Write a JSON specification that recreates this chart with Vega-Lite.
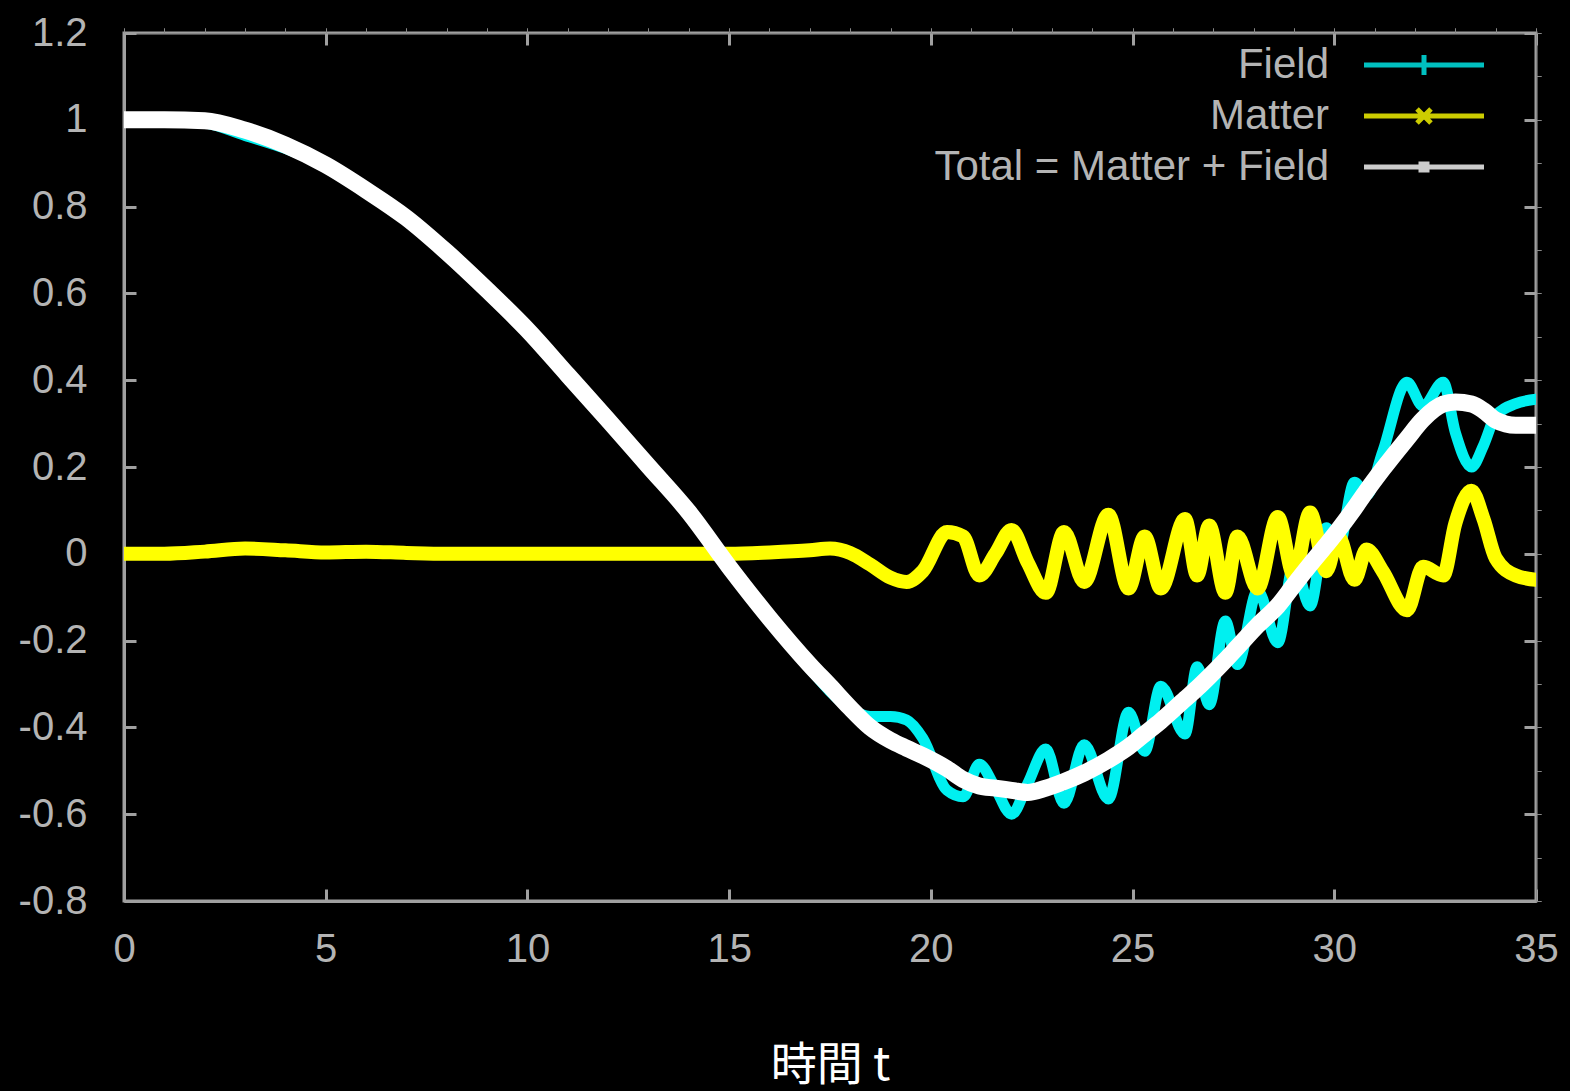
{
  "$schema": "https://vega.github.io/schema/vega-lite/v6.json",
  "width": 1412,
  "height": 868,
  "autosize": "none",
  "padding": {"left": 124, "top": 33, "right": 34, "bottom": 190},
  "background": "black",
  "config": {
    "view": {"stroke": "#a0a0a0", "strokeWidth": 3},
    "font": "Liberation Sans",
    "legend": {
      "orient": "none",
      "legendX": 1279,
      "legendY": 11,
      "padding": 0,
      "title": null,
      "labelAlign": "right",
      "labelOffset": -116,
      "labelLimit": 0,
      "labelFontSize": 42,
      "labelColor": "#b4b4b4",
      "labelFont": "Liberation Sans",
      "symbolType": "M-6,0H6",
      "symbolSize": 400,
      "symbolStrokeWidth": 5,
      "symbolOpacity": 0.8,
      "rowPadding": 9
    }
  },
  "data": {
    "values": [
      {"t": 0, "Field": 1.0, "Matter": 0.0, "Total": 1.0},
      {"t": 1, "Field": 1.0, "Matter": 0.0, "Total": 1.0},
      {"t": 2, "Field": 0.993, "Matter": 0.005, "Total": 0.998},
      {"t": 3, "Field": 0.964, "Matter": 0.012, "Total": 0.976},
      {"t": 4, "Field": 0.934, "Matter": 0.008, "Total": 0.942},
      {"t": 5, "Field": 0.893, "Matter": 0.003, "Total": 0.896},
      {"t": 6, "Field": 0.833, "Matter": 0.005, "Total": 0.838},
      {"t": 7, "Field": 0.772, "Matter": 0.002, "Total": 0.774},
      {"t": 8, "Field": 0.695, "Matter": 0.0, "Total": 0.695},
      {"t": 9, "Field": 0.608, "Matter": 0.0, "Total": 0.608},
      {"t": 10, "Field": 0.516, "Matter": 0.0, "Total": 0.516},
      {"t": 11, "Field": 0.412, "Matter": 0.0, "Total": 0.412},
      {"t": 12, "Field": 0.308, "Matter": 0.0, "Total": 0.308},
      {"t": 13, "Field": 0.202, "Matter": 0.0, "Total": 0.202},
      {"t": 14, "Field": 0.096, "Matter": 0.0, "Total": 0.096},
      {"t": 15, "Field": -0.03, "Matter": 0.0, "Total": -0.03},
      {"t": 16, "Field": -0.151, "Matter": 0.003, "Total": -0.148},
      {"t": 17, "Field": -0.264, "Matter": 0.008, "Total": -0.256},
      {"t": 17.5, "Field": -0.317, "Matter": 0.012, "Total": -0.305},
      {"t": 18, "Field": -0.357, "Matter": 0.002, "Total": -0.355},
      {"t": 18.5, "Field": -0.375, "Matter": -0.025, "Total": -0.4},
      {"t": 19, "Field": -0.375, "Matter": -0.055, "Total": -0.43},
      {"t": 19.4, "Field": -0.383, "Matter": -0.065, "Total": -0.448},
      {"t": 19.8, "Field": -0.425, "Matter": -0.04, "Total": -0.465},
      {"t": 20.4, "Field": -0.545, "Matter": 0.05, "Total": -0.495},
      {"t": 20.8, "Field": -0.56, "Matter": 0.04, "Total": -0.52},
      {"t": 21.2, "Field": -0.485, "Matter": -0.05, "Total": -0.535},
      {"t": 21.6, "Field": -0.54, "Matter": 0.0, "Total": -0.54},
      {"t": 22.0, "Field": -0.6, "Matter": 0.055, "Total": -0.545},
      {"t": 22.4, "Field": -0.53, "Matter": -0.02, "Total": -0.55},
      {"t": 22.85, "Field": -0.45, "Matter": -0.09, "Total": -0.54},
      {"t": 23.3, "Field": -0.575, "Matter": 0.05, "Total": -0.525},
      {"t": 23.8, "Field": -0.44, "Matter": -0.065, "Total": -0.505},
      {"t": 24.4, "Field": -0.565, "Matter": 0.09, "Total": -0.475},
      {"t": 24.9, "Field": -0.365, "Matter": -0.08, "Total": -0.445},
      {"t": 25.3, "Field": -0.455, "Matter": 0.04, "Total": -0.415},
      {"t": 25.7, "Field": -0.305, "Matter": -0.08, "Total": -0.385},
      {"t": 26.3, "Field": -0.415, "Matter": 0.08, "Total": -0.335},
      {"t": 26.6, "Field": -0.26, "Matter": -0.05, "Total": -0.31},
      {"t": 26.9, "Field": -0.348, "Matter": 0.065, "Total": -0.283},
      {"t": 27.3, "Field": -0.155, "Matter": -0.09, "Total": -0.245},
      {"t": 27.6, "Field": -0.255, "Matter": 0.04, "Total": -0.215},
      {"t": 28.1, "Field": -0.085, "Matter": -0.08, "Total": -0.165},
      {"t": 28.6, "Field": -0.205, "Matter": 0.085, "Total": -0.12},
      {"t": 29.0, "Field": -0.022, "Matter": -0.05, "Total": -0.072},
      {"t": 29.4, "Field": -0.12, "Matter": 0.095, "Total": -0.025},
      {"t": 29.8, "Field": 0.06, "Matter": -0.04, "Total": 0.02},
      {"t": 30.1, "Field": 0.015, "Matter": 0.04, "Total": 0.055},
      {"t": 30.5, "Field": 0.165, "Matter": -0.06, "Total": 0.105},
      {"t": 30.8, "Field": 0.135, "Matter": 0.01, "Total": 0.145},
      {"t": 31.2, "Field": 0.235, "Matter": -0.04, "Total": 0.195},
      {"t": 31.8, "Field": 0.395, "Matter": -0.13, "Total": 0.265},
      {"t": 32.2, "Field": 0.34, "Matter": -0.03, "Total": 0.31},
      {"t": 32.7, "Field": 0.395, "Matter": -0.05, "Total": 0.345},
      {"t": 33.0, "Field": 0.28, "Matter": 0.07, "Total": 0.35},
      {"t": 33.4, "Field": 0.2, "Matter": 0.145, "Total": 0.345},
      {"t": 33.7, "Field": 0.25, "Matter": 0.08, "Total": 0.33},
      {"t": 34.0, "Field": 0.318, "Matter": -0.01, "Total": 0.308},
      {"t": 34.5, "Field": 0.346, "Matter": -0.05, "Total": 0.296},
      {"t": 35, "Field": 0.356, "Matter": -0.06, "Total": 0.296}
    ]
  },
  "layer": [
    {
      "mark": {"type": "line", "strokeWidth": 11, "strokeJoin": "round", "strokeCap": "round", "interpolate": "monotone", "clip": true},
      "encoding": {
        "x": {"field": "t", "type": "quantitative",
          "scale": {"domain": [0, 35], "nice": false, "zero": false},
          "axis": {"orient": "bottom", "values": [0, 5, 10, 15, 20, 25, 30, 35], "grid": false, "labelFlush": false,
            "domainColor": "#a0a0a0", "domainWidth": 3, "tickColor": "#a0a0a0", "tickWidth": 3, "tickSize": -12,
            "labelColor": "#b4b4b4", "labelFontSize": 40, "labelPadding": 40, "labelFont": "Liberation Sans",
            "title": "時間 t", "titleFont": "Noto Sans CJK JP", "titleFontSize": 46, "titleFontWeight": "normal",
            "titleColor": "#ffffff", "titleY": 164, "titleBaseline": "middle"}},
        "y": {"field": "Field", "type": "quantitative",
          "scale": {"domain": [-0.8, 1.2], "nice": false, "zero": false},
          "axis": {"orient": "left", "values": [-0.8, -0.6, -0.4, -0.2, 0, 0.2, 0.4, 0.6, 0.8, 1, 1.2], "grid": false, "labelFlush": false,
            "domainColor": "#a0a0a0", "domainWidth": 3, "tickColor": "#a0a0a0", "tickWidth": 3, "tickSize": -12,
            "labelColor": "#b4b4b4", "labelFontSize": 40, "labelPadding": 49, "labelFont": "Liberation Sans",
            "labelExpr": "replace(format(datum.value, '.1~f'), '\u2212', '-')", "title": null}},
        "color": {"datum": "Field", "type": "nominal",
          "scale": {"domain": ["Field", "Matter", "Total = Matter + Field"], "range": ["#00f0f0", "#ffff00", "#ffffff"]},
          "legend": {"encode": {"symbols": {"update": {"shape": {"signal": "datum.value === 'Field' ? 'M-6,0H6M0,-1V1' : datum.value === 'Matter' ? 'M-6,0H6M-0.7,-0.7L0.7,0.7M-0.7,0.7L0.7,-0.7' : 'M-6,0H6M-0.3,-0.3H0.3V0.3H-0.3Z'"}}}}}}
      }
    },
    {
      "mark": {"type": "line", "strokeWidth": 14, "strokeJoin": "round", "strokeCap": "round", "interpolate": "monotone", "clip": true},
      "encoding": {
        "x": {"field": "t", "type": "quantitative"},
        "y": {"field": "Matter", "type": "quantitative"},
        "color": {"datum": "Matter", "type": "nominal"}
      }
    },
    {
      "mark": {"type": "line", "strokeWidth": 17, "strokeJoin": "round", "strokeCap": "round", "interpolate": "monotone", "clip": true},
      "encoding": {
        "x": {"field": "t", "type": "quantitative"},
        "y": {"field": "Total", "type": "quantitative"},
        "color": {"datum": "Total = Matter + Field", "type": "nominal"}
      }
    },
    {
      "mark": {"type": "point", "opacity": 0},
      "encoding": {
        "x": {"field": "t", "type": "quantitative",
          "axis": {"orient": "top", "values": [0, 5, 10, 15, 20, 25, 30, 35], "grid": false, "labels": false, "domain": false,
            "tickColor": "#a0a0a0", "tickWidth": 3, "tickSize": -12, "title": null}},
        "y": {"field": "Total", "type": "quantitative",
          "axis": {"orient": "right", "values": [-0.8, -0.6, -0.4, -0.2, 0, 0.2, 0.4, 0.6, 0.8, 1, 1.2], "grid": false, "labels": false, "domain": false,
            "tickColor": "#a0a0a0", "tickWidth": 3, "tickSize": -12, "title": null}}
      }
    }
  ],
  "resolve": {"axis": {"x": "independent", "y": "independent"}}
}
